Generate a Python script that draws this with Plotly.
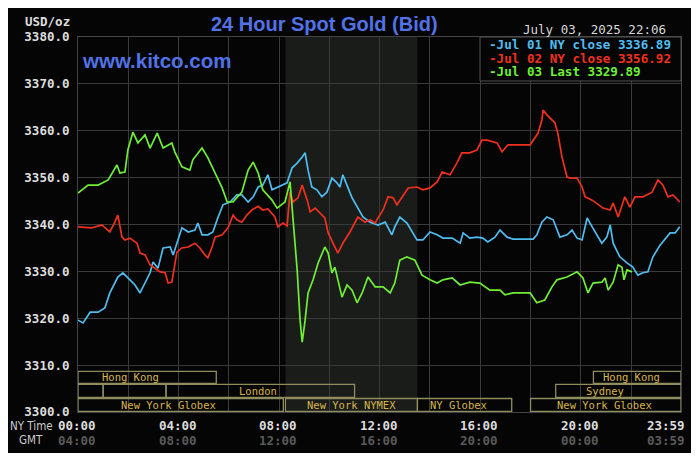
import plotly.graph_objects as go

# minutes after midnight, NY time
jul01_t = [0, 12, 29, 48, 64, 76, 95, 107, 124, 136, 148, 160, 172, 179, 191, 203, 220, 227,
           236, 248, 263, 279, 286, 296, 310, 322, 332, 346, 363, 379, 391, 406, 418, 430,
           441, 453, 463, 477, 499, 511, 523, 535, 542, 549, 558, 570, 582, 594, 606, 618,
           625, 632, 644, 654, 668, 680, 697, 716, 733, 749, 756, 768, 785, 797, 809, 823,
           840, 857, 871, 893, 912, 919, 935, 952, 966, 978, 995, 1007, 1024, 1038, 1086,
           1095, 1107, 1119, 1134, 1150, 1167, 1179, 1191, 1203, 1215, 1227, 1239, 1250,
           1262, 1270, 1277, 1293, 1310, 1324, 1336, 1348, 1360, 1372, 1389, 1405, 1413,
           1425, 1436]
jul01_v = [3319.6, 3319.0, 3321.3, 3321.3, 3322.2, 3325.4, 3328.8, 3329.7, 3328.2, 3327.1,
           3325.4, 3327.5, 3329.7, 3332.0, 3330.7, 3335.0, 3335.2, 3333.5, 3336.0, 3339.3,
           3338.4, 3338.8, 3340.3, 3337.8, 3337.8, 3338.4, 3341.0, 3344.2, 3344.8, 3346.3,
           3346.3, 3344.8, 3345.9, 3348.0, 3348.4, 3350.6, 3347.4, 3348.0, 3348.9, 3352.1,
           3353.1, 3354.4, 3355.3, 3351.6, 3348.0, 3347.4, 3345.9, 3346.9, 3349.9, 3348.9,
           3348.0, 3350.6, 3348.0, 3345.7, 3343.5, 3341.6, 3340.5, 3339.9, 3340.5, 3337.8,
           3339.5, 3341.6, 3340.3, 3338.4, 3336.7, 3336.7, 3338.4, 3337.8, 3337.1, 3337.1,
           3336.0, 3338.2, 3337.1, 3337.3, 3337.1, 3336.3, 3337.3, 3338.8, 3337.3, 3336.9,
           3336.9, 3337.8, 3340.5, 3341.6, 3341.0, 3337.3, 3337.8, 3338.8, 3337.1, 3336.7,
           3341.4, 3339.5, 3337.8, 3336.0, 3337.3, 3339.9, 3336.0, 3333.1, 3331.8, 3330.9,
           3329.2, 3329.7, 3329.9, 3333.1, 3335.6, 3337.3, 3338.2, 3338.2, 3339.5]

jul02_t = [0, 33, 57, 76, 88, 95, 105, 112, 124, 141, 148, 160, 172, 184, 196, 208, 215,
           224, 231, 236, 248, 263, 279, 291, 303, 310, 320, 327, 344, 358, 370, 379, 391,
           403, 415, 430, 441, 453, 470, 477, 489, 499, 506, 513, 525, 535, 547, 554, 566,
           578, 589, 597, 609, 620, 632, 649, 668, 685, 697, 709, 716, 728, 740, 752, 761,
           773, 788, 809, 823, 840, 857, 869, 888, 904, 916, 935, 952, 964, 976, 1000, 1012,
           1026, 1079, 1098, 1107, 1110, 1119, 1138, 1145, 1155, 1167, 1174, 1191, 1203,
           1210, 1227, 1241, 1253, 1270, 1277, 1289, 1305, 1317, 1329, 1348, 1370, 1384,
           1396, 1408, 1420, 1436]
jul02_v = [3339.5, 3339.3, 3339.9, 3338.4, 3340.5, 3342.0, 3337.3, 3336.7, 3337.1, 3336.0,
           3333.9, 3333.5, 3331.4, 3330.7, 3329.9, 3329.7, 3327.5, 3327.7, 3331.8, 3334.1,
           3335.0, 3335.2, 3336.0, 3335.0, 3333.5, 3332.9, 3335.2, 3337.3, 3337.8, 3339.3,
           3342.0, 3341.0, 3340.5, 3342.0, 3343.1, 3343.9, 3343.1, 3343.3, 3341.6, 3339.5,
           3340.3, 3339.7, 3346.9, 3344.8, 3345.7, 3348.4, 3345.2, 3342.7, 3343.5, 3342.5,
           3341.4, 3338.2, 3336.0, 3333.9, 3336.0, 3338.4, 3341.6, 3340.5, 3341.0, 3340.3,
           3341.4, 3343.1, 3345.9, 3345.7, 3344.2, 3345.9, 3347.8, 3348.0, 3347.4, 3347.8,
           3349.1, 3351.2, 3350.6, 3353.1, 3355.3, 3355.3, 3355.9, 3358.0, 3358.0, 3357.4,
           3355.5, 3357.0, 3357.0, 3359.5, 3362.3, 3364.4, 3363.4, 3361.7, 3359.5, 3354.4,
           3350.1, 3349.9, 3349.9, 3348.0, 3345.9, 3345.2, 3344.2, 3343.5, 3343.1, 3344.6,
           3341.6, 3345.9, 3343.7, 3345.9, 3345.9, 3346.9, 3349.5, 3348.4, 3345.9, 3346.3,
           3344.8]

jul03_t = [0, 24, 48, 72, 93, 100, 112, 119, 131, 143, 160, 172, 189, 203, 224, 231, 248,
           267, 274, 296, 310, 327, 344, 356, 370, 391, 406, 418, 430, 441, 463, 475, 494,
           506, 513, 523, 530, 535, 542, 549, 561, 573, 589, 597, 606, 613, 630, 642, 654,
           666, 678, 692, 709, 728, 745, 756, 768, 785, 804, 821, 840, 857, 871, 893, 912,
           935, 959, 983, 1007, 1019, 1038, 1079, 1095, 1114, 1131, 1143, 1167, 1191, 1205,
           1217, 1229, 1250, 1258, 1265, 1277, 1289, 1298, 1303, 1310, 1322]
jul03_v = [3346.7, 3348.4, 3348.4, 3349.5, 3352.7, 3351.0, 3351.2, 3355.9, 3359.7, 3357.4,
           3359.1, 3356.3, 3359.5, 3356.3, 3357.4, 3355.5, 3352.3, 3351.6, 3353.8, 3356.3,
           3354.2, 3351.0, 3347.8, 3344.8, 3344.8, 3346.9, 3351.6, 3353.3, 3351.0, 3347.4,
           3345.2, 3343.5, 3344.8, 3349.1, 3341.0, 3330.3, 3319.6, 3314.9, 3319.6, 3325.4,
           3328.2, 3331.8, 3335.2, 3333.9, 3329.7, 3330.9, 3324.5, 3327.1, 3326.0, 3323.3,
           3325.4, 3328.8, 3326.7, 3326.7, 3325.4, 3327.5, 3332.4, 3333.1, 3332.4, 3329.2,
           3328.2, 3327.5, 3328.2, 3328.6, 3327.1, 3327.7, 3327.5, 3326.0, 3326.0, 3325.0,
           3325.4, 3325.4, 3323.3, 3323.9, 3326.7, 3328.2, 3328.8, 3329.9, 3328.6, 3325.4,
           3327.5, 3327.7, 3328.6, 3326.0, 3327.7, 3331.4, 3330.9, 3328.2, 3330.3, 3329.9]

series_labels = ["Jul 01 NY close", "Jul 02 NY close", "Jul 03 Last"]
series_closes = [3336.89, 3356.92, 3329.89]
series_colors = ["#4fbdf0", "#f0301e", "#6fef35"]

tick_minutes = [0, 240, 480, 720, 960, 1200, 1439]
ny_ticks = ["00:00", "04:00", "08:00", "12:00", "16:00", "20:00", "23:59"]
gmt_ticks = ["04:00", "08:00", "12:00", "16:00", "20:00", "00:00", "03:59"]

# trading sessions: name, start, end (minutes), row (0 = bottom), label position
session_names = ["New York Globex", "New York NYMEX", "NY Globex", "New York Globex",
                 "", "", "London", "Sydney", "Hong Kong", "Hong Kong"]
session_start = [0, 495, 810, 1080, 0, 60, 210, 1140, 0, 1230]
session_end = [490, 810, 1035, 1439, 60, 210, 660, 1439, 330, 1439]
session_row = [0, 0, 0, 0, 1, 1, 1, 1, 2, 2]
session_label_at = [217, 652, 909, 1257, 30, 135, 429, 1257, 126, 1320]

nymex_open, nymex_close = 495, 810

MONO = "DejaVu Sans Mono"
row_edges = [3300, 3303, 3306, 3308.8]


def paper_text(x, y, text, font, xanchor="center"):
    return dict(x=x, y=y, xref="paper", yref="paper", text=text, showarrow=False,
                xanchor=xanchor, yanchor="middle", font=font)


fig = go.Figure()
for t, v, c in zip([jul01_t, jul02_t, jul03_t], [jul01_v, jul02_v, jul03_v], series_colors):
    fig.add_trace(go.Scatter(x=t, y=v, mode="lines", line=dict(color=c, width=1.7),
                             showlegend=False, hoverinfo="skip"))

shapes = [
    # black panel
    dict(type="rect", xref="paper", yref="paper", x0=-0.121, x1=1.0166, y0=-0.109, y1=1.08,
         fillcolor="#050505", line=dict(width=0), layer="below"),
    # NYMEX shading
    dict(type="rect", xref="x", yref="paper", x0=nymex_open, x1=nymex_close, y0=0, y1=1,
         fillcolor="#1a1c1a", line=dict(width=0), layer="below"),
    # legend box
    dict(type="rect", xref="paper", yref="paper", x0=0.6667, x1=1.0, y0=0.8827, y1=1.0,
         fillcolor="#050505", line=dict(color="#555555", width=1), layer="above"),
]
annotations = []

for name, s, e, r, lab in zip(session_names, session_start, session_end, session_row, session_label_at):
    shapes.append(dict(type="rect", xref="x", yref="y", x0=s, x1=e,
                       y0=row_edges[r] + 0.12, y1=row_edges[r + 1] - 0.12,
                       line=dict(color="#8f8d5e", width=1.3), layer="above"))
    if name:
        annotations.append(dict(x=lab, y=(row_edges[r] + row_edges[r + 1]) / 2, xref="x", yref="y",
                                text=name, showarrow=False, yanchor="middle",
                                font=dict(family=MONO, size=10.5, color="#d8b64a")))

for m, ny, gmt in zip(tick_minutes, ny_ticks, gmt_ticks):
    last = m == tick_minutes[-1]
    anchor = "right" if last else "center"
    shift = 6 if last else -1
    for y, txt, col in [(-0.0347, ny, "#dddddd"), (-0.0747, gmt, "#5a5a5a")]:
        annotations.append(dict(x=m, y=y, xref="x", yref="paper", text=txt, showarrow=False,
                                xanchor=anchor, yanchor="middle", xshift=shift,
                                font=dict(family=MONO, size=12.5, color=col, weight="bold")))

annotations += [
    paper_text(-0.116, -0.0373, "NY Time",
               dict(family="DejaVu Sans Condensed", size=11.5, color="#cccccc"), "left"),
    paper_text(-0.101, -0.0747, "GMT",
               dict(family="DejaVu Sans Condensed", size=11.5, color="#cccccc"), "left"),
    paper_text(-0.0095, 1.04, "USD/oz",
               dict(family=MONO, size=12.5, color="#dddddd", weight="bold"), "right"),
    paper_text(0.4096, 1.0347, "24 Hour Spot Gold (Bid)",
               dict(family="Liberation Sans", size=20, color="#5272e8", weight="bold")),
    paper_text(0.0033, 0.936, "www.kitco.com",
               dict(family="Liberation Sans", size=20.5, color="#5272e8", weight="bold"), "left"),
    paper_text(0.978, 1.0213, "July 03, 2025 22:06",
               dict(family=MONO, size=12.5, color="#d8d8d8"), "right"),
]
for y, lab, close, c in zip([0.9787, 0.944, 0.9067], series_labels, series_closes, series_colors):
    annotations.append(paper_text(0.678, y, f"-{lab} {close:.2f}",
                                  dict(family=MONO, size=12.6, color=c, weight="bold"), "left"))

# the page adds an 8px body margin, so margins are trimmed to keep the plot where it belongs
fig.update_layout(
    width=700, height=462,
    margin=dict(l=70, r=27, t=29, b=58),
    paper_bgcolor="white",
    plot_bgcolor="#050505",
    shapes=shapes,
    annotations=annotations,
    xaxis=dict(range=[0, 1439], showticklabels=False, tickvals=list(range(0, 1440, 120)),
               showgrid=True, gridcolor="#3a3a3a", gridwidth=1, zeroline=False,
               showline=True, linecolor="#444444", mirror=True, ticks=""),
    yaxis=dict(range=[3300, 3380], dtick=10, tickformat=".1f", showgrid=True,
               gridcolor="#3a3a3a", gridwidth=1, zeroline=False, showline=True,
               linecolor="#444444", mirror=True, ticks="", ticklabelstandoff=5,
               tickfont=dict(family=MONO, size=12.5, color="#dddddd", weight="bold")),
)

fig.write_html("out.html")
